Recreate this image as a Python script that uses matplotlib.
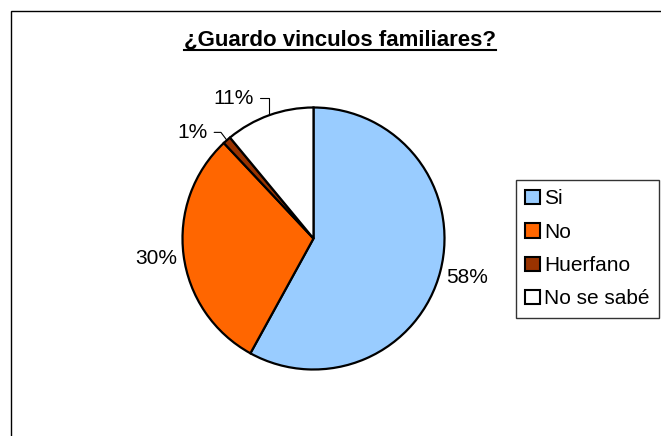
import numpy as np
import matplotlib.pyplot as plt
from matplotlib.patches import Rectangle
from matplotlib.lines import Line2D

plt.rcParams['font.family'] = ['Liberation Sans', 'DejaVu Sans']

# data
categories = ['Si', 'No', 'Huerfano', 'No se sabé']
values = [58, 30, 1, 11]
colors = ['#99CCFF', '#FF6600', '#993300', '#FFFFFF']

W, H = 661, 436
fig = plt.figure(figsize=(W / 100, H / 100), dpi=100)
fig.patch.set_facecolor('white')

# outer chart frame (right and bottom run off the picture)
fig.add_artist(Rectangle((10.5 / W, -0.1), 2, 1 - 11 / H + 0.1,
                         transform=fig.transFigure, fill=False,
                         edgecolor='black', linewidth=1.0))

# pie axes: radius 1 -> 131 px, centre at (313.5, 238.5) from top-left
R = 131
span = 1.5
cx, cy = 313.5, H - 238.5
ax = fig.add_axes([(cx - span * R) / W, (cy - span * R) / H,
                   2 * span * R / W, 2 * span * R / H])

wedges, _ = ax.pie(values, colors=colors, startangle=90, counterclock=False,
                   radius=1,
                   wedgeprops=dict(edgecolor='black', linewidth=1.6))
ax.set_xlim(-span, span)
ax.set_ylim(-span, span)
ax.axis('off')

total = sum(values)
fs = 15
# small slices get a leader line, offset for the text (data units)
leader_offset = {2: (-0.15, 0.06), 3: (-0.12, 0.13)}
cum = 0
for i, v in enumerate(values):
    mid = 90 - (cum + v / 2) / total * 360
    cum += v
    th = np.deg2rad(mid)
    label = f'{round(100 * v / total)}%'
    if i in leader_offset:
        px, py = np.cos(th), np.sin(th)
        dx, dy = leader_offset[i]
        angB = 90 if i == 3 else 127
        ax.annotate(label, xy=(px, py), xytext=(px + dx, py + dy),
                    ha='right', va='center', fontsize=fs,
                    arrowprops=dict(arrowstyle='-', color='black', lw=0.8,
                                    relpos=(1, 0.5), shrinkA=3, shrinkB=0,
                                    connectionstyle=f'angle,angleA=0,angleB={angB},rad=0'))
    else:
        d = 1.21
        ax.text(d * np.cos(th), d * np.sin(th), label, ha='center',
                va='center', fontsize=fs)

# title with underline
title = fig.text(340 / W, 1 - 46 / H, '¿Guardo vinculos familiares?',
                 ha='center', va='baseline', fontsize=16, fontweight='bold')
renderer = fig.canvas.get_renderer()
bb = title.get_window_extent(renderer)
uy = (H - 50) / H
fig.add_artist(Line2D([bb.x0 / W, bb.x1 / W], [uy, uy],
                      transform=fig.transFigure, color='black', linewidth=1.5))

leg = fig.legend(wedges, categories, loc='upper left',
                 bbox_to_anchor=(516 / W, 1 - 180 / H), borderaxespad=0,
                 fontsize=fs, frameon=True, fancybox=False,
                 handlelength=0.7, handleheight=0.7, handletextpad=0.2,
                 labelspacing=0.69, borderpad=0.45)
leg.get_frame().set_edgecolor('black')
leg.get_frame().set_linewidth(1.0)
for h in leg.legend_handles:
    h.set_linewidth(1.5)

fig.savefig('out.png', dpi=100, facecolor='white')
